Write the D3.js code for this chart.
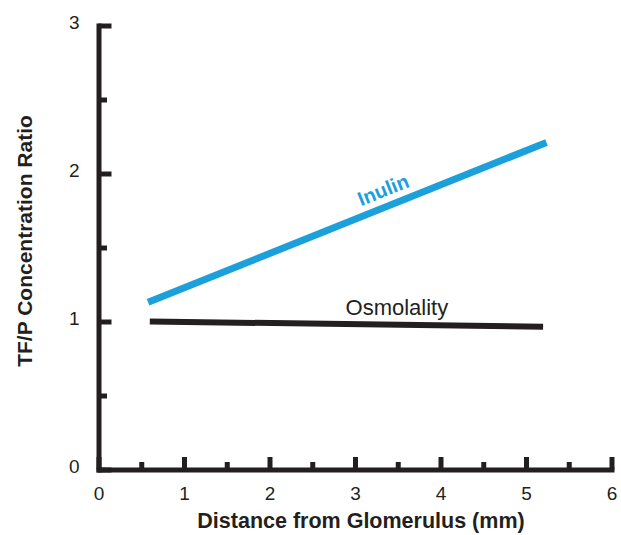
<!DOCTYPE html>
<html>
<head>
<meta charset="utf-8">
<script src="https://cdn.jsdelivr.net/npm/d3@7/dist/d3.min.js"></script>
<style>
  html, body { margin: 0; padding: 0; background: #fff; }
  svg { display: block; }
  text { font-family: "Liberation Sans", Arial, Helvetica, sans-serif; fill: #231f20; }
</style>
</head>
<body>
<svg id="chart" width="621" height="535"></svg>
<script>
// ---- Data ----
const xTicks = [0, 1, 2, 3, 4, 5, 6];
const xMinorTicks = [0.5, 1.5, 2.5, 3.5, 4.5, 5.5];
const yTicks = [0, 1, 2, 3];
const yMinorTicks = [0.5, 1.5, 2.5];

const inulinX = [0.58, 5.24];
const inulinY = [1.13, 2.21];
const osmolalityX = [0.6, 5.2];
const osmolalityY = [1.0, 0.965];

const xTitle = "Distance from Glomerulus (mm)";
const yTitle = "TF/P Concentration Ratio";
const inulinLabel = "Inulin";
const osmolalityLabel = "Osmolality";

// ---- Layout ----
const svg = d3.select("#chart");
const ink = "#231f20";
const blue = "#1ba0db";

const x = d3.scaleLinear().domain([0, 6]).range([98.5, 611.5]);
const y = d3.scaleLinear().domain([0, 3]).range([469.5, 25.5]);

function styleAxis(g, w) {
  g.select(".domain").attr("stroke", ink).attr("stroke-width", 5).attr("stroke-linecap", "square");
  g.selectAll(".tick line").attr("stroke", ink).attr("stroke-width", w);
}

// minor ticks (drawn first)
const xMinor = svg.append("g").attr("transform", `translate(0,${y(0)})`)
  .call(d3.axisBottom(x).tickValues(xMinorTicks).tickSize(-7.5).tickFormat(""));
xMinor.select(".domain").remove();
xMinor.selectAll(".tick line").attr("stroke", ink).attr("stroke-width", 5);

const yMinor = svg.append("g").attr("transform", `translate(${x(0)},0)`)
  .call(d3.axisLeft(y).tickValues(yMinorTicks).tickSize(-8.5).tickFormat(""));
yMinor.select(".domain").remove();
yMinor.selectAll(".tick line").attr("stroke", ink).attr("stroke-width", 5);

// major axes
const xAxis = svg.append("g").attr("transform", `translate(0,${y(0)})`)
  .call(d3.axisBottom(x).tickValues(xTicks).tickSize(-12.5).tickSizeOuter(0).tickPadding(17).tickFormat(d3.format("d")));
styleAxis(xAxis, 5);
xAxis.selectAll(".tick text").attr("font-size", 19).attr("font-family", "Liberation Sans, Arial, sans-serif").attr("fill", ink);

const yAxis = svg.append("g").attr("transform", `translate(${x(0)},0)`)
  .call(d3.axisLeft(y).tickValues(yTicks).tickSize(-13).tickSizeOuter(0).tickPadding(19).tickFormat(d3.format("d")));
styleAxis(yAxis, 5);
yAxis.selectAll(".tick text").attr("font-size", 19).attr("font-family", "Liberation Sans, Arial, sans-serif").attr("fill", ink).attr("dy", "0.15em");

// lines
const line = d3.line().x(d => x(d[0])).y(d => y(d[1]));
svg.append("path")
  .datum(d3.zip(osmolalityX, osmolalityY))
  .attr("d", line).attr("fill", "none").attr("stroke", ink).attr("stroke-width", 6);
svg.append("path")
  .datum(d3.zip(inulinX, inulinY))
  .attr("d", line).attr("fill", "none").attr("stroke", blue).attr("stroke-width", 7);

// line labels
const ang = Math.atan2(y(inulinY[1]) - y(inulinY[0]), x(inulinX[1]) - x(inulinX[0])) * 180 / Math.PI;
svg.append("text")
  .attr("transform", `translate(${x(3.33)},${y(1.89)}) rotate(${ang})`)
  .attr("text-anchor", "middle").attr("dy", "0.35em")
  .attr("font-size", 20).attr("font-weight", "bold").style("fill", blue)
  .text(inulinLabel);

svg.append("text")
  .attr("x", x(3.49)).attr("y", y(1.044))
  .attr("text-anchor", "middle")
  .attr("font-size", 22)
  .text(osmolalityLabel);

// axis titles
svg.append("text")
  .attr("x", 361).attr("y", 528)
  .attr("text-anchor", "middle").attr("font-size", 21.5).attr("font-weight", "bold")
  .text(xTitle);

svg.append("text")
  .attr("transform", `translate(32,241) rotate(-90)`)
  .attr("text-anchor", "middle").attr("font-size", 21).attr("font-weight", "bold")
  .text(yTitle);
</script>
</body>
</html>
